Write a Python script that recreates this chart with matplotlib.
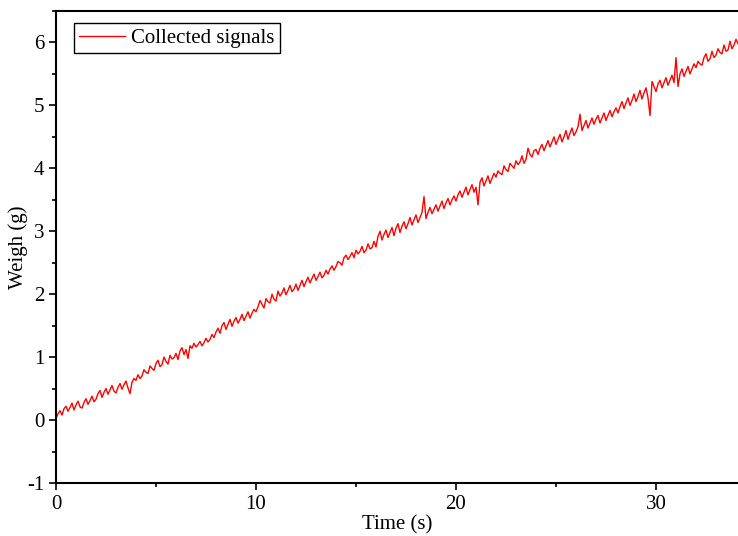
import numpy as np
import matplotlib
matplotlib.use('Agg')
import matplotlib.pyplot as plt
from matplotlib.ticker import MultipleLocator

t_step = 0.1
weight = [
    0.03, 0.10, 0.15, 0.08, 0.18, 0.22, 0.14, 0.20, 0.27, 0.16, 0.24, 0.30, 0.21, 0.19, 0.28, 0.34, 0.25, 0.31, 0.38, 0.29,
    0.33, 0.42, 0.47, 0.36, 0.44, 0.50, 0.41, 0.48, 0.55, 0.46, 0.43, 0.52, 0.58, 0.49, 0.56, 0.62, 0.51, 0.42, 0.60, 0.66,
    0.63, 0.72, 0.66, 0.70, 0.80, 0.76, 0.74, 0.86, 0.82, 0.79, 0.90, 0.95, 0.85, 0.88, 1.00, 0.93, 0.89, 1.03, 0.97, 0.99,
    1.06, 0.96, 1.10, 1.15, 1.04, 1.12, 0.98, 1.18, 1.14, 1.22, 1.16, 1.20, 1.25, 1.18, 1.23, 1.30, 1.24, 1.28, 1.36, 1.31,
    1.40, 1.46, 1.38, 1.50, 1.55, 1.44, 1.52, 1.60, 1.49, 1.57, 1.63, 1.54, 1.60, 1.68, 1.58, 1.65, 1.72, 1.62, 1.70, 1.76,
    1.72, 1.80, 1.90, 1.84, 1.78, 1.93, 1.88, 1.86, 2.00, 1.92, 1.89, 2.05, 1.97, 2.02, 2.10, 1.99, 2.06, 2.14, 2.04, 2.08,
    2.16, 2.06, 2.14, 2.22, 2.12, 2.20, 2.27, 2.18, 2.25, 2.32, 2.22, 2.28, 2.35, 2.26, 2.30, 2.38, 2.32, 2.40, 2.45, 2.38,
    2.44, 2.52, 2.50, 2.46, 2.58, 2.62, 2.55, 2.60, 2.66, 2.58, 2.70, 2.64, 2.68, 2.76, 2.66, 2.70, 2.80, 2.72, 2.74, 2.84,
    2.75, 2.92, 3.00, 2.86, 2.95, 3.02, 2.90, 2.98, 3.06, 2.93, 3.05, 3.12, 2.98, 3.08, 3.15, 3.04, 3.12, 3.22, 3.10, 3.18,
    3.26, 3.14, 3.22, 3.30, 3.55, 3.20, 3.30, 3.38, 3.28, 3.35, 3.42, 3.32, 3.40, 3.48, 3.36, 3.45, 3.52, 3.42, 3.50, 3.56,
    3.48, 3.58, 3.64, 3.54, 3.62, 3.70, 3.58, 3.66, 3.74, 3.62, 3.70, 3.42, 3.78, 3.85, 3.72, 3.80, 3.88, 3.76, 3.84, 3.92,
    3.86, 3.96, 3.92, 3.90, 4.04, 3.98, 3.95, 4.08, 4.04, 4.00, 4.12, 4.06, 4.10, 4.20, 4.08, 4.14, 4.32, 4.22, 4.18, 4.28,
    4.30, 4.22, 4.32, 4.38, 4.28, 4.36, 4.44, 4.34, 4.42, 4.50, 4.38, 4.46, 4.54, 4.42, 4.50, 4.60, 4.46, 4.56, 4.64, 4.52,
    4.58, 4.66, 4.86, 4.60, 4.68, 4.76, 4.64, 4.72, 4.80, 4.70, 4.78, 4.84, 4.72, 4.80, 4.88, 4.76, 4.84, 4.92, 4.82, 4.90,
    4.96, 4.88, 4.98, 5.06, 4.95, 5.04, 5.12, 5.00, 5.08, 5.18, 5.06, 5.14, 5.24, 5.10, 5.20, 5.28, 5.12, 4.84, 5.38, 5.30,
    5.22, 5.34, 5.40, 5.28, 5.36, 5.44, 5.32, 5.40, 5.48, 5.36, 5.76, 5.30, 5.50, 5.58, 5.46, 5.54, 5.62, 5.50, 5.58, 5.66,
    5.60, 5.70, 5.66, 5.64, 5.76, 5.82, 5.70, 5.74, 5.86, 5.76, 5.80, 5.90, 5.84, 5.82, 5.96, 5.86, 5.88, 6.02, 5.90, 5.96,
    6.05, 5.98,
]
time = np.arange(len(weight)) * t_step

plt.rcParams['font.family'] = ['Liberation Serif', 'DejaVu Serif']
plt.rcParams['axes.unicode_minus'] = False

fig = plt.figure(figsize=[7.38, 5.36], dpi=100)
ax = fig.add_axes([56/738, 53/536, 1 - 56/738, 472/536])
ax.plot(time, weight, '-', color='#ff0000', lw=1.0, label='Collected signals')

ax.set_xlim([0, 34.1])
ax.set_ylim([-1, 6.5])
ax.xaxis.set_major_locator(MultipleLocator(10))
ax.xaxis.set_minor_locator(MultipleLocator(5))
ax.yaxis.set_major_locator(MultipleLocator(1))
ax.yaxis.set_minor_locator(MultipleLocator(0.5))
ax.tick_params(which='major', direction='out', length=5, width=1.2, labelsize=15)
ax.tick_params(which='minor', direction='out', length=3, width=1.2)
ax.spines['right'].set_visible(False)
for s in ['left', 'bottom', 'top']:
    ax.spines[s].set_linewidth(1.5)

ax.set_xlabel('Time (s)', fontsize=15, labelpad=1)
ax.set_ylabel('Weigh (g)', fontsize=15)
ax.yaxis.set_label_coords(-0.041, 0.5)

leg = ax.legend(loc='upper left', bbox_to_anchor=(18/682, 1 - 12/472),
                fontsize=15, fancybox=False, framealpha=1, edgecolor='black',
                handlelength=2.2, borderpad=0.25, borderaxespad=0,
                handletextpad=0.3)
leg.get_frame().set_linewidth(1.0)

fig.savefig('out.png', dpi=100)
